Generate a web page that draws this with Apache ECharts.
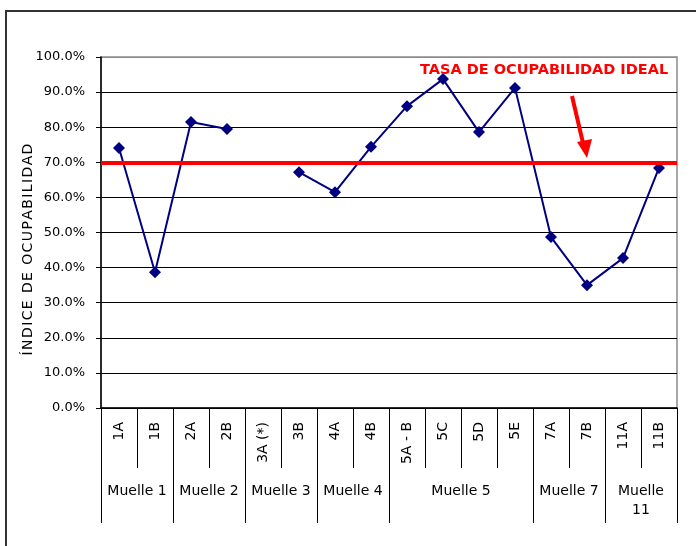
<!DOCTYPE html>
<html>
<head>
<meta charset="utf-8">
<script src="https://cdn.jsdelivr.net/npm/echarts@6/dist/echarts.min.js"></script>
<style>html,body{margin:0;padding:0;background:#fff}#c{width:696px;height:546px}</style>
</head>
<body>
<div id="c"></div>
<script>
const categories = ['1A','1B','2A','2B','3A (*)','3B','4A','4B','5A - B','5C','5D','5E','7A','7B','11A','11B'];
const occupancy = [0.741, 0.387, 0.815, 0.795, null, 0.672, 0.615, 0.744, 0.860, 0.937, 0.786, 0.912, 0.487, 0.350, 0.427, 0.684];
const groupNames = ['Muelle 1','Muelle 2','Muelle 3','Muelle 4','Muelle 5','Muelle 7','Muelle\n11'];
const groupBounds = [0, 2, 4, 6, 8, 12, 14, 16];
const groupCenters = [1, 3, 5, 7, 10, 13, 15];
const idealRate = 0.70;
const yTitle = 'ÍNDICE DE OCUPABILIDAD';
const annotation = 'TASA DE OCUPABILIDAD IDEAL';

const spaced = s => s.split('').join('\u200A');
const chart = echarts.init(document.getElementById('c'));
const FONT = 'DejaVu Sans';
chart.setOption({
  animation: false,
  textStyle: {fontFamily: FONT},
  grid: {left: 101, right: 19, top: 57, bottom: 138, show: true, borderColor: '#8c8c8c', borderWidth: 1.5},
  xAxis: [{
    type: 'category', data: categories, boundaryGap: true,
    axisLine: {lineStyle: {color: '#000', width: 1.5}},
    axisTick: {show: true, interval: 0, length: 60, lineStyle: {color: '#000'}},
    axisLabel: {interval: 0, rotate: 90, margin: 14, color: '#000', fontSize: 14, fontFamily: FONT}
  }, {
    type: 'value', min: 0, max: 16, position: 'bottom',
    axisLine: {show: false}, splitLine: {show: false},
    axisTick: {show: true, customValues: groupBounds, length: 115, lineStyle: {color: '#000'}},
    axisLabel: {customValues: groupCenters, margin: 74, color: '#000', fontSize: 14, fontFamily: FONT,
      verticalAlign: 'top', align: 'center', lineHeight: 19,
      formatter: v => groupNames[groupCenters.indexOf(v)]}
  }],
  yAxis: {
    type: 'value', min: 0, max: 1, interval: 0.1,
    name: spaced(yTitle), nameLocation: 'middle', nameRotate: 90, nameGap: 66, nameMoveOverlap: false,
    nameTextStyle: {color: '#000', fontSize: 14, fontFamily: FONT, padding: [0, 34, 0, 0]},
    axisLine: {show: true, lineStyle: {color: '#000', width: 1.5}},
    axisTick: {show: true, inside: false, length: 5, lineStyle: {color: '#000'}},
    axisLabel: {margin: 16, color: '#000', fontSize: 13, fontFamily: FONT,
      formatter: v => (v * 100).toFixed(1) + '%'},
    splitLine: {show: true, lineStyle: {color: ['#000','#000','#000','#000','#000','#000','#000','#000','#000','#000','#8c8c8c'], width: 1}}
  },
  series: [{
    type: 'line', data: occupancy, xAxisIndex: 0, connectNulls: false,
    symbol: 'diamond', symbolSize: 12,
    lineStyle: {color: '#000080', width: 2},
    itemStyle: {color: '#000080'},
    markLine: {
      silent: true, symbol: 'none', label: {show: false},
      lineStyle: {color: '#ff0000', width: 4, type: 'solid'},
      data: [{yAxis: idealRate}]
    }
  }],
  graphic: [
    {type: 'rect', shape: {x: 6, y: 11, width: 720, height: 560}, style: {fill: 'none', stroke: '#333', lineWidth: 2}, z: 100},
    {type: 'text', left: 420, top: 63, style: {text: annotation, fill: '#ff0000', font: 'bold 14.5px "DejaVu Sans"'}, z: 100},
    {type: 'line', shape: {x1: 572, y1: 96, x2: 583, y2: 143}, style: {stroke: '#ff0000', lineWidth: 4}, z: 100},
    {type: 'polygon', shape: {points: [[577, 142], [592, 139], [587, 158]]}, style: {fill: '#ff0000'}, z: 100}
  ]
});
</script>
</body>
</html>
